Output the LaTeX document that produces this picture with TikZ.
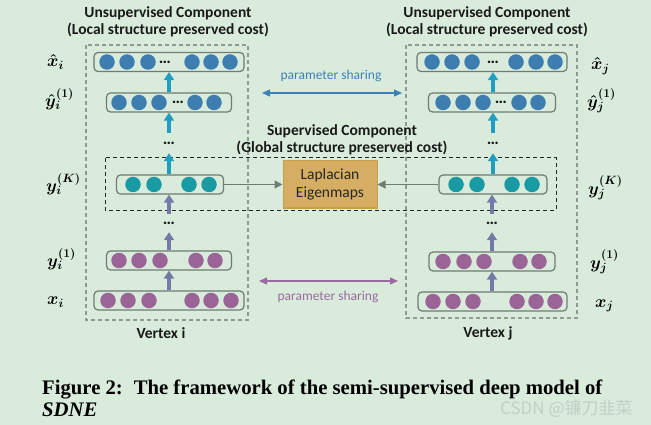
\documentclass[tikz,border=0pt]{standalone}
\usepackage{fontspec}
\setmainfont{Liberation Serif}
\setsansfont{Carlito}
\newfontfamily\cjkfont{Noto Sans CJK SC}
\usetikzlibrary{arrows.meta}

\definecolor{bgcol}{HTML}{D9ECDC}
\definecolor{unitblue}{HTML}{3D7DB0}
\definecolor{unitteal}{HTML}{1A9AA3}
\definecolor{unitpurple}{HTML}{9A6496}
\definecolor{arrcyan}{HTML}{1F9EC2}
\definecolor{arrslate}{HTML}{7479A8}
\definecolor{arrgray}{HTML}{6F7C74}
\definecolor{layergray}{HTML}{6D7B72}
\definecolor{boxgray}{HTML}{8D9A91}
\definecolor{lapfill}{HTML}{D6AE63}
\definecolor{lapdraw}{HTML}{C99D4A}
\definecolor{shareblue}{HTML}{3F80B5}
\definecolor{sharepurple}{HTML}{9C6AA0}
\definecolor{markgray}{HTML}{C4CEC7}

\tikzset{
  layer/.style={draw=layergray, line width=1.2pt, rounded corners=4pt, minimum height=19pt, inner sep=0pt},
  unit/.style={circle, inner sep=0pt, minimum size=15.5pt},
  dotsnode/.style={inner sep=0pt, minimum height=20pt, font=\sffamily\bfseries\fontsize{17}{17}\selectfont, text=black!90},
  veclabel/.style={anchor=west, inner sep=0pt, font=\boldmath\fontsize{17}{17}\selectfont},
  titletext/.style={align=center, font=\sffamily\bfseries\fontsize{15.5}{17}\selectfont, text=black!90},
  sharetext/.style={font=\sffamily\fontsize{13.5}{16}\selectfont},
  outerbox/.style={draw=boxgray, line width=1.2pt, dash pattern=on 4pt off 3pt},
  supbox/.style={draw=black!85, line width=1pt, dash pattern=on 4pt off 3pt},
  uparrow/.style={line width=3.2pt, -{Triangle[length=8pt,width=10pt]}},
  laparrow/.style={draw=arrgray, line width=1.3pt, -{Triangle[length=8pt,width=8pt]}},
  sharearrow/.style={line width=1.3pt, {Triangle[length=8pt,width=7pt]}-{Triangle[length=8pt,width=7pt]}}
}

\begin{document}
\begin{tikzpicture}[x=1pt, y=-1pt]
\useasboundingbox (0,0) rectangle (651,425);
\fill[bgcol] (0,0) rectangle (651,425);

% Dashed frames
\draw[outerbox] (86,45) rectangle (248,320);
\draw[outerbox] (406,45) rectangle (577,318);
\draw[supbox] (105,158) rectangle (556,210);

% Titles
\node[titletext] (unsup_i) at (168,21.5) {Unsupervised Component\\(Local structure preserved cost)};
\node[titletext] (unsup_j) at (487,21.5) {Unsupervised Component\\(Local structure preserved cost)};
\node[titletext] (sup) at (342,139.5) {Supervised Component\\(Global structure preserved cost)};

% Left: vertex i
\node[layer, minimum width=150pt] (xh_i) at (169,62) {};
\foreach \dx [count=\k] in {-62,-42,-21,23,42,61} \node[unit, fill=unitblue] (xh_i-\k) at ({169+\dx},62) {};
\node[dotsnode] (xh_i-dots) at (165,62) {…};

\node[layer, minimum width=125pt] (yh_i) at (169,102.5) {};
\node[dotsnode] (yh_i-dots) at (178,102.5) {…};
\foreach \dx [count=\k] in {-50,-30,-10,26,45} \node[unit, fill=unitblue] (yh_i-\k) at ({169+\dx},102.5) {};

\node[dotsnode] (dA_i) at (169,143) {…};

\node[layer, minimum width=107pt] (yK_i) at (170,184.5) {};
\foreach \dx [count=\k] in {-37,-16,19,39} \node[unit, fill=unitteal] (yK_i-\k) at ({170+\dx},184.5) {};

\node[dotsnode, minimum height=18pt] (dB_i) at (169,223) {…};

\node[layer, minimum width=125pt] (y1_i) at (169,260.5) {};
\foreach \dx [count=\k] in {-50,-30,-9,27,46} \node[unit, fill=unitpurple] (y1_i-\k) at ({169+\dx},260.5) {};

\node[layer, minimum width=150pt] (x_i) at (169,300.5) {};
\foreach \dx [count=\k] in {-61,-41,-20,23,42,62} \node[unit, fill=unitpurple] (x_i-\k) at ({169+\dx},300.5) {};

\draw[uparrow, arrcyan] (yh_i.north) -- (xh_i.south);
\draw[uparrow, arrcyan] (dA_i.north) -- (yh_i.south);
\draw[uparrow, arrcyan] (yK_i.north -| dA_i) -- (dA_i.south);
\draw[uparrow, arrslate] (dB_i.north) -- (yK_i.south -| dB_i);
\draw[uparrow, arrslate] (y1_i.north) -- (dB_i.south);
\draw[uparrow, arrslate] (x_i.north) -- (y1_i.south);

\node[veclabel] (lab_xh_i) at (47,62) {$\hat{x}_i$};
\node[veclabel] (lab_yh_i) at (45,99) {${\hat{y}_i}^{(1)}$};
\node[veclabel] (lab_yK_i) at (46,184) {$y_i^{(K)}$};
\node[veclabel] (lab_y1_i) at (47,259) {$y_i^{(1)}$};
\node[veclabel] (lab_x_i) at (47,302) {$x_i$};
\node[titletext] (vert_i) at (161,333) {Vertex i};

% Right: vertex j
\node[layer, minimum width=150pt] (xh_j) at (492,62) {};
\foreach \dx [count=\k] in {-60,-40,-20,24,44,63} \node[unit, fill=unitblue] (xh_j-\k) at ({492+\dx},62) {};
\node[dotsnode] (xh_j-dots) at (493,62) {…};

\node[layer, minimum width=127pt] (yh_j) at (492,102.5) {};
\node[dotsnode] (yh_j-dots) at (501,102.5) {…};
\foreach \dx [count=\k] in {-49,-29,-9,27,46} \node[unit, fill=unitblue] (yh_j-\k) at ({492+\dx},102.5) {};

\node[dotsnode] (dA_j) at (493,143) {…};

\node[layer, minimum width=108pt] (yK_j) at (493,184.5) {};
\foreach \dx [count=\k] in {-37,-16,19,39} \node[unit, fill=unitteal] (yK_j-\k) at ({493+\dx},184.5) {};

\node[dotsnode, minimum height=18pt] (dB_j) at (492,223) {…};

\node[layer, minimum width=126pt] (y1_j) at (492,261.5) {};
\foreach \dx [count=\k] in {-49,-28,-8,28,47} \node[unit, fill=unitpurple] (y1_j-\k) at ({492+\dx},261.5) {};

\node[layer, minimum width=149pt] (x_j) at (492.5,301.5) {};
\foreach \dx [count=\k] in {-59.5,-39.5,-19.5,24.5,43.5,62.5} \node[unit, fill=unitpurple] (x_j-\k) at ({492.5+\dx},301.5) {};

\draw[uparrow, arrcyan] (yh_j.north -| dA_j) -- (xh_j.south -| dA_j);
\draw[uparrow, arrcyan] (dA_j.north) -- (yh_j.south -| dA_j);
\draw[uparrow, arrcyan] (yK_j.north -| dA_j) -- (dA_j.south);
\draw[uparrow, arrslate] (dB_j.north) -- (yK_j.south -| dB_j);
\draw[uparrow, arrslate] (y1_j.north) -- (dB_j.south);
\draw[uparrow, arrslate] (x_j.north -| dB_j) -- (y1_j.south -| dB_j);

\node[veclabel] (lab_xh_j) at (591,66) {$\hat{x}_j$};
\node[veclabel] (lab_yh_j) at (587,101) {${\hat{y}_j}^{(1)}$};
\node[veclabel] (lab_yK_j) at (588,188) {$y_j^{(K)}$};
\node[veclabel] (lab_y1_j) at (590,262) {$y_j^{(1)}$};
\node[veclabel] (lab_x_j) at (595,306) {$x_j$};
\node[titletext] (vert_j) at (488,333) {Vertex j};

% Supervised part
\node[draw=lapdraw, fill=lapfill, line width=1pt, minimum width=94pt, minimum height=47pt, align=center,
      font=\sffamily\fontsize{15.5}{18}\selectfont, text=black!85] (lap) at (330,184.5) {Laplacian\\Eigenmaps};
\draw[laparrow] (yK_i.east) -- (lap.west);
\draw[laparrow] (yK_j.west) -- (lap.east);

% Parameter sharing
\coordinate (shareL_top) at (262,93);
\coordinate (shareR_top) at (402,93);
\draw[sharearrow, shareblue] (shareL_top) -- (shareR_top);
\node[sharetext, text=shareblue] (share_top) at (331,76) {parameter sharing};

\coordinate (shareL_bot) at (259,281);
\coordinate (shareR_bot) at (398,281);
\draw[sharearrow, sharepurple] (shareL_bot) -- (shareR_bot);
\node[sharetext, text=sharepurple] (share_bot) at (328,297) {parameter sharing};

% Caption
\node[anchor=base west, inner sep=0pt, font=\fontsize{20.7}{22}\selectfont\bfseries] (cap1) at (42,394)
  {Figure 2:\hspace{4pt} The framework of the semi-supervised deep model of};
\node[anchor=base west, inner sep=0pt, font=\fontsize{20.7}{22}\selectfont\bfseries\itshape] (cap2) at (42,416) {SDNE};
\node[anchor=west, inner sep=0pt, text=markgray, font=\fontsize{17}{17}\selectfont] (mark) at (500,409) {\cjkfont CSDN @镰刀韭菜};

\end{tikzpicture}
\end{document}
